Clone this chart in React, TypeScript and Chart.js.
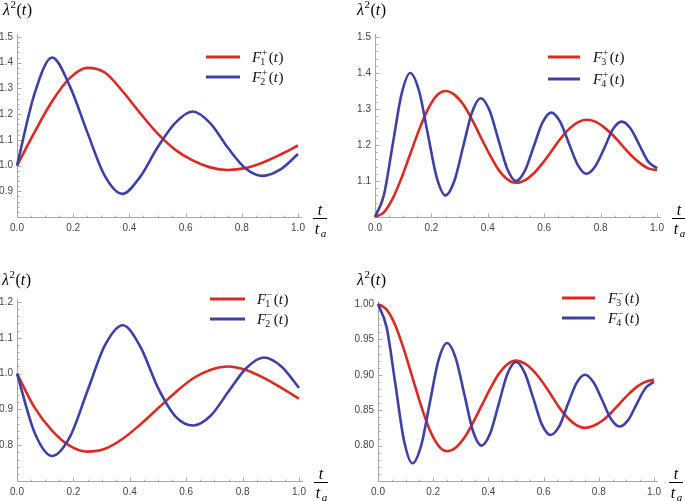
import React, { useEffect, useRef } from "react";
import { Chart, registerables } from "chart.js";

Chart.register(...registerables);

// ---------- data ----------
const T16 = [0, 0.0625, 0.125, 0.1875, 0.25, 0.3125, 0.375, 0.4375, 0.5, 0.5625, 0.625, 0.6875, 0.75, 0.8125, 0.875, 0.9375, 1];
const T32 = [0, 0.03125, 0.0625, 0.09375, 0.125, 0.15625, 0.1875, 0.21875, 0.25, 0.28125, 0.3125, 0.34375, 0.375, 0.40625, 0.4375, 0.46875, 0.5, 0.53125, 0.5625, 0.59375, 0.625, 0.65625, 0.6875, 0.71875, 0.75, 0.78125, 0.8125, 0.84375, 0.875, 0.90625, 0.9375, 0.96875, 1];

const F1plus = [1.0, 1.13, 1.25, 1.34, 1.38, 1.362, 1.29, 1.205, 1.125, 1.062, 1.02, 0.993, 0.983, 0.99, 1.012, 1.043, 1.078];
const F2plus = [1.0, 1.28, 1.42, 1.31, 1.13, 0.96, 0.89, 0.955, 1.07, 1.165, 1.21, 1.165, 1.07, 0.99, 0.96, 0.985, 1.045];
const F3plus = [1.0, 1.013, 1.051, 1.108, 1.175, 1.242, 1.299, 1.337, 1.35, 1.34, 1.313, 1.271, 1.222, 1.174, 1.132, 1.105, 1.095, 1.102, 1.121, 1.149, 1.182, 1.216, 1.244, 1.263, 1.27, 1.265, 1.249, 1.227, 1.2, 1.173, 1.151, 1.135, 1.13];
const F4plus = [1.0, 1.06, 1.2, 1.34, 1.4, 1.35, 1.23, 1.11, 1.06, 1.1, 1.195, 1.29, 1.33, 1.296, 1.215, 1.134, 1.1, 1.128, 1.195, 1.262, 1.29, 1.265, 1.205, 1.145, 1.12, 1.141, 1.19, 1.244, 1.265, 1.246, 1.2, 1.154, 1.135];
const F1minus = [1.0, 0.905, 0.84, 0.798, 0.782, 0.79, 0.818, 0.858, 0.903, 0.948, 0.987, 1.011, 1.02, 1.01, 0.988, 0.96, 0.93];
const F2minus = [1.0, 0.835, 0.77, 0.823, 0.952, 1.08, 1.135, 1.075, 0.96, 0.88, 0.855, 0.883, 0.95, 1.015, 1.045, 1.02, 0.96];
const F3minus = [1.0, 0.992, 0.97, 0.936, 0.896, 0.856, 0.822, 0.8, 0.792, 0.797, 0.811, 0.832, 0.856, 0.88, 0.901, 0.915, 0.92, 0.916, 0.906, 0.891, 0.873, 0.854, 0.839, 0.829, 0.825, 0.828, 0.835, 0.846, 0.859, 0.872, 0.883, 0.89, 0.893];
const F4minus = [1.0, 0.967, 0.888, 0.808, 0.775, 0.8, 0.86, 0.92, 0.945, 0.924, 0.873, 0.821, 0.8, 0.817, 0.859, 0.901, 0.918, 0.903, 0.867, 0.83, 0.815, 0.827, 0.858, 0.888, 0.9, 0.889, 0.864, 0.838, 0.827, 0.836, 0.859, 0.881, 0.89];

const xTicksMajor = 0.2;
const xTicksMinor = 0.05;

// ---------- styles ----------
const RED = "#dc2a22";
const BLUE = "#3e40a8";
const AXIS = "#a8a8a8";
const TICKTEXT = "#444";
const SERIF = '"Liberation Serif", "Times New Roman", serif';
const SANS = '"Liberation Sans", Arial, sans-serif';

type Panel = {
  left: number; top: number; w: number; h: number;
  area: { l: number; r: number; t: number; b: number };
  red: { t: number[]; v: number[]; idx: string; sign: string };
  blue: { t: number[]; v: number[]; idx: string; sign: string };
  yMin: number; yMax: number; yStep: number; yMinor: number; yDec: number;
  titlePos: [number, number];
  legend: { x0: number; x1: number; tx: number; y1: number; y2: number };
};

const PANELS: Panel[] = [
  {
    left: 0, top: 0, w: 342, h: 250,
    area: { l: 17, r: 298, t: 37, b: 217 },
    red: { t: T16, v: F1plus, idx: "1", sign: "+" },
    blue: { t: T16, v: F2plus, idx: "2", sign: "+" },
    yMin: 0.8, yMax: 1.5, yStep: 0.1, yMinor: 0.02, yDec: 1,
    titlePos: [3, 15],
    legend: { x0: 206, x1: 240, tx: 252, y1: 57, y2: 77 },
  },
  {
    left: 342, top: 0, w: 343, h: 250,
    area: { l: 33, r: 315, t: 37, b: 217 },
    red: { t: T32, v: F3plus, idx: "3", sign: "+" },
    blue: { t: T32, v: F4plus, idx: "4", sign: "+" },
    yMin: 1.0, yMax: 1.5, yStep: 0.1, yMinor: 0.02, yDec: 1,
    titlePos: [15, 15],
    legend: { x0: 206, x1: 238, tx: 251, y1: 57, y2: 79 },
  },
  {
    left: 0, top: 250, w: 342, h: 251,
    area: { l: 17, r: 299, t: 52, b: 231 },
    red: { t: T16, v: F1minus, idx: "1", sign: "\u2212" },
    blue: { t: T16, v: F2minus, idx: "2", sign: "\u2212" },
    yMin: 0.7, yMax: 1.2, yStep: 0.1, yMinor: 0.02, yDec: 1,
    titlePos: [2, 35],
    legend: { x0: 210, x1: 245, tx: 257, y1: 49, y2: 69 },
  },
  {
    left: 342, top: 250, w: 343, h: 251,
    area: { l: 36, r: 312, t: 54, b: 231 },
    red: { t: T32, v: F3minus, idx: "3", sign: "\u2212" },
    blue: { t: T32, v: F4minus, idx: "4", sign: "\u2212" },
    yMin: 0.75, yMax: 1.0, yStep: 0.05, yMinor: 0.01, yDec: 2,
    titlePos: [15, 35],
    legend: { x0: 220, x1: 253, tx: 266, y1: 48, y2: 68 },
  },
];

function drawLambda(ctx: CanvasRenderingContext2D, x: number, y: number) {
  ctx.fillStyle = "#000";
  ctx.textAlign = "left";
  ctx.textBaseline = "alphabetic";
  ctx.font = `italic 16px ${SERIF}`;
  ctx.fillText("\u03bb", x, y);
  let cx = x + ctx.measureText("\u03bb").width + 0.5;
  ctx.font = `11px ${SERIF}`;
  ctx.fillText("2", cx, y - 7);
  cx += ctx.measureText("2").width + 0.5;
  ctx.font = `16px ${SERIF}`;
  ctx.fillText("(", cx, y);
  cx += ctx.measureText("(").width;
  ctx.font = `italic 16px ${SERIF}`;
  ctx.fillText("t", cx, y);
  cx += ctx.measureText("t").width + 0.5;
  ctx.font = `16px ${SERIF}`;
  ctx.fillText(")", cx, y);
}

function drawF(ctx: CanvasRenderingContext2D, x: number, y: number, idx: string, sign: string) {
  ctx.fillStyle = "#111";
  ctx.textAlign = "left";
  ctx.textBaseline = "alphabetic";
  ctx.font = `italic 15px ${SERIF}`;
  ctx.fillText("F", x, y);
  let cx = x + ctx.measureText("F").width;
  ctx.font = `10px ${SERIF}`;
  ctx.fillText(sign, cx + 0.5, y - 6);
  const ws = ctx.measureText(sign).width;
  ctx.fillText(idx, cx - 1, y + 3);
  const wi = ctx.measureText(idx).width;
  cx += Math.max(ws + 0.5, wi - 1) + 1.5;
  ctx.font = `15px ${SERIF}`;
  ctx.fillText("(", cx, y);
  cx += ctx.measureText("(").width;
  ctx.font = `italic 15px ${SERIF}`;
  ctx.fillText("t", cx, y);
  cx += ctx.measureText("t").width + 0.5;
  ctx.font = `15px ${SERIF}`;
  ctx.fillText(")", cx, y);
}

function makeDecor(p: Panel) {
  return {
    id: "decor",
    beforeDatasetsDraw(chart: any) {
      const { ctx, chartArea: a, scales } = chart;
      const x = scales.x, y = scales.y;
      ctx.save();
      ctx.strokeStyle = AXIS;
      ctx.lineWidth = 1;
      // axis lines
      const bx = Math.round(a.left) + 0.5;
      const by = Math.round(a.bottom) + 0.5;
      ctx.beginPath();
      ctx.moveTo(bx, by);
      ctx.lineTo(a.right + 4, by);
      ctx.moveTo(bx, by);
      ctx.lineTo(bx, a.top - 3);
      ctx.stroke();
      // x ticks (inward)
      const nx = Math.round((x.max - x.min) / xTicksMinor);
      const per = Math.round(xTicksMajor / xTicksMinor);
      ctx.beginPath();
      for (let i = 0; i <= nx; i++) {
        const v = x.min + i * xTicksMinor;
        const px = Math.round(x.getPixelForValue(v)) + 0.5;
        const len = i % per === 0 ? 4 : 2;
        ctx.moveTo(px, by);
        ctx.lineTo(px, by - len);
      }
      // y ticks (inward)
      const ny = Math.round((p.yMax - p.yMin) / p.yMinor);
      const pery = Math.round(p.yStep / p.yMinor);
      for (let i = 0; i <= ny; i++) {
        const v = p.yMin + i * p.yMinor;
        const py = Math.round(y.getPixelForValue(v)) + 0.5;
        const len = i % pery === 0 ? 4 : 2;
        ctx.moveTo(bx, py);
        ctx.lineTo(bx + len, py);
      }
      ctx.stroke();
      ctx.restore();
    },
    afterDraw(chart: any) {
      const { ctx, chartArea: a } = chart;
      ctx.save();
      // title
      drawLambda(ctx, p.titlePos[0], p.titlePos[1]);
      // fraction t / t_a
      const cxF = a.right + 22;
      const by = Math.round(a.bottom) + 1.5;
      ctx.fillStyle = "#000";
      ctx.strokeStyle = "#000";
      ctx.lineWidth = 1;
      ctx.beginPath();
      ctx.moveTo(cxF - 7, by);
      ctx.lineTo(cxF + 7, by);
      ctx.stroke();
      ctx.font = `italic 16px ${SERIF}`;
      ctx.textAlign = "center";
      ctx.fillText("t", cxF, by - 4);
      ctx.fillText("t", cxF - 3, by + 15);
      ctx.font = `italic 11px ${SERIF}`;
      ctx.fillText("a", cxF + 3.5, by + 18);
      // legend
      const L = p.legend;
      ctx.lineWidth = 3;
      ctx.lineCap = "butt";
      ctx.strokeStyle = RED;
      ctx.beginPath();
      ctx.moveTo(L.x0, L.y1);
      ctx.lineTo(L.x1, L.y1);
      ctx.stroke();
      ctx.strokeStyle = BLUE;
      ctx.beginPath();
      ctx.moveTo(L.x0, L.y2);
      ctx.lineTo(L.x1, L.y2);
      ctx.stroke();
      drawF(ctx, L.tx, L.y1 + 5, p.red.idx, p.red.sign);
      drawF(ctx, L.tx, L.y2 + 5, p.blue.idx, p.blue.sign);
      ctx.restore();
    },
  };
}

function PanelChart({ p }: { p: Panel }) {
  const ref = useRef<HTMLCanvasElement | null>(null);
  useEffect(() => {
    if (!ref.current) return;
    const toXY = (t: number[], v: number[]) => t.map((tt, i) => ({ x: tt, y: v[i] }));
    const chart = new Chart(ref.current, {
      type: "line",
      data: {
        datasets: [
          {
            label: "red",
            data: toXY(p.red.t, p.red.v),
            borderColor: RED,
            borderWidth: 2.6,
            pointRadius: 0,
            cubicInterpolationMode: "monotone",
            fill: false,
            order: 1,
            clip: 6,
          },
          {
            label: "blue",
            data: toXY(p.blue.t, p.blue.v),
            borderColor: BLUE,
            borderWidth: 2.6,
            pointRadius: 0,
            cubicInterpolationMode: "monotone",
            fill: false,
            order: 0,
            clip: 6,
          },
        ],
      },
      options: {
        responsive: false,
        animation: false,
        devicePixelRatio: 1,
        layout: {
          padding: { left: 0, top: p.area.t, right: p.w - p.area.r, bottom: 0 },
        },
        plugins: { legend: { display: false }, tooltip: { enabled: false } },
        scales: {
          x: {
            type: "linear",
            min: 0,
            max: 1,
            grid: { display: false, drawTicks: false },
            border: { display: false },
            ticks: {
              stepSize: xTicksMajor,
              padding: 5,
              color: TICKTEXT,
              font: { family: SANS, size: 10 },
              maxRotation: 0,
              callback: (v: any) => Number(v).toFixed(1),
            },
            afterFit: (s: any) => {
              s.height = p.h - p.area.b;
            },
          },
          y: {
            type: "linear",
            min: p.yMin,
            max: p.yMax,
            grid: { display: false, drawTicks: false },
            border: { display: false },
            ticks: {
              stepSize: p.yStep,
              padding: 4,
              color: TICKTEXT,
              font: { family: SANS, size: 10 },
              callback: (v: any) => (Math.abs(Number(v) - p.yMin) < 1e-9 ? "" : Number(v).toFixed(p.yDec)),
            },
            afterFit: (s: any) => {
              s.width = p.area.l;
            },
          },
        },
      },
      plugins: [makeDecor(p)],
    } as any);
    return () => chart.destroy();
  }, [p]);
  return (
    <canvas
      ref={ref}
      width={p.w}
      height={p.h}
      style={{ position: "absolute", left: p.left, top: p.top, width: p.w, height: p.h }}
    />
  );
}

export default function App() {
  return (
    <div style={{ position: "fixed", left: 0, top: 0, width: 685, height: 501, background: "#fff", overflow: "hidden" }}>
      {PANELS.map((p, i) => (
        <PanelChart key={i} p={p} />
      ))}
    </div>
  );
}
